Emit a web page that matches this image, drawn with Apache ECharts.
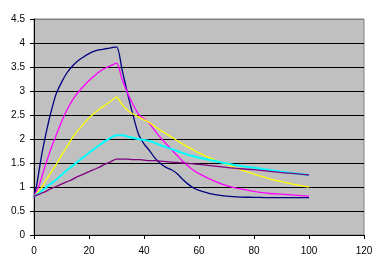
<!DOCTYPE html>
<html>
<head>
<meta charset="utf-8">
<script src="https://cdn.jsdelivr.net/npm/echarts@6/dist/echarts.min.js"></script>
<style>
html,body{margin:0;padding:0;background:#fff;}
#c{width:384px;height:272px;}
</style>
</head>
<body>
<div id="c"></div>
<script>
var xs = [0,1,2,3,4,5,6,8,10,12,14,16,18,20,22,24,26,28,30,32,34,36,38,40,42,44,46,48,50,52,54,56,58,60,65,70,75,80,85,90,95,100];

var navy = [0.80,1.05,1.40,1.73,2.02,2.28,2.52,2.93,3.18,3.38,3.52,3.63,3.71,3.78,3.83,3.86,3.88,3.90,3.92,
            3.45,2.95,2.50,2.10,1.90,1.76,1.60,1.49,1.41,1.36,1.28,1.16,1.06,0.98,0.93,0.85,0.81,0.79,0.785,0.78,0.78,0.78,0.78];
var magenta = [0.80,0.92,1.06,1.24,1.43,1.60,1.77,2.07,2.36,2.61,2.81,2.97,3.10,3.22,3.32,3.41,3.48,3.53,3.58,
            3.25,2.96,2.72,2.52,2.42,2.32,2.17,2.03,1.90,1.78,1.66,1.54,1.44,1.35,1.28,1.14,1.03,0.96,0.91,0.87,0.85,0.83,0.81];
var yellow = [0.80,0.87,0.94,1.01,1.11,1.20,1.29,1.46,1.66,1.84,2.03,2.18,2.31,2.44,2.54,2.63,2.71,2.79,2.87,
            2.72,2.60,2.52,2.46,2.40,2.34,2.26,2.18,2.11,2.04,1.97,1.90,1.83,1.77,1.71,1.58,1.47,1.36,1.27,1.18,1.11,1.05,1.00];
var cyan = [0.80,0.84,0.88,0.93,0.97,1.02,1.06,1.15,1.25,1.35,1.44,1.53,1.62,1.71,1.80,1.88,1.96,2.03,2.08,
            2.08,2.05,2.02,2.00,1.98,1.96,1.92,1.87,1.83,1.79,1.75,1.71,1.67,1.64,1.61,1.55,1.49,1.44,1.40,1.36,1.32,1.28,1.25];
var purple = [0.80,0.83,0.85,0.88,0.90,0.93,0.96,1.01,1.06,1.11,1.16,1.22,1.27,1.32,1.37,1.42,1.48,1.53,1.58,
            1.58,1.58,1.57,1.57,1.56,1.55,1.55,1.54,1.53,1.52,1.51,1.50,1.49,1.48,1.47,1.44,1.41,1.38,1.36,1.33,1.30,1.28,1.25];

var xTicks = {min:0, max:120, interval:20};
var yTicks = {min:0, max:4.5, interval:0.5};

function pairs(arr){ return xs.map(function(x,i){ return [x, arr[i]]; }); }
function mk(name, arr, color, w){
  return {name:name, type:'line', data:pairs(arr), showSymbol:false, symbol:'none',
          smooth:0.3, lineStyle:{color:color, width:w}, itemStyle:{color:color}, animation:false};
}

var chart = echarts.init(document.getElementById('c'), null, {renderer:'canvas'});
var gridColors = ['#000','#000','#000','#000','#000','#000','#000','#000','#000','#808080'];
chart.setOption({
  animation:false,
  backgroundColor:'#ffffff',
  grid:{left:34, right:20, top:19, bottom:37, show:true, backgroundColor:'#C0C0C0', borderColor:'#808080', borderWidth:1},
  xAxis:{type:'value', min:xTicks.min, max:xTicks.max, interval:xTicks.interval,
    axisLine:{show:true, onZero:false, lineStyle:{color:'#000', width:1}},
    axisTick:{show:true, inside:false, length:4, lineStyle:{color:'#000'}},
    axisLabel:{color:'#000', fontFamily:'Liberation Sans, Arial', fontSize:10, margin:11},
    splitLine:{show:false}},
  yAxis:{type:'value', min:yTicks.min, max:yTicks.max, interval:yTicks.interval,
    axisLine:{show:true, lineStyle:{color:'#000', width:1}},
    axisTick:{show:true, inside:false, length:4, lineStyle:{color:'#000'}},
    axisLabel:{color:'#000', fontFamily:'Liberation Sans, Arial', fontSize:10, margin:9},
    splitLine:{show:true, lineStyle:{color:gridColors, width:1}}},
  series:[
    mk('S1', navy, '#000080', 1.3),
    mk('S2', magenta, '#FF00FF', 1.3),
    mk('S3', yellow, '#FFFF00', 1.3),
    mk('S4', cyan, '#00FFFF', 2),
    mk('S5', purple, '#800080', 1.3)
  ]
});
</script>
</body>
</html>
